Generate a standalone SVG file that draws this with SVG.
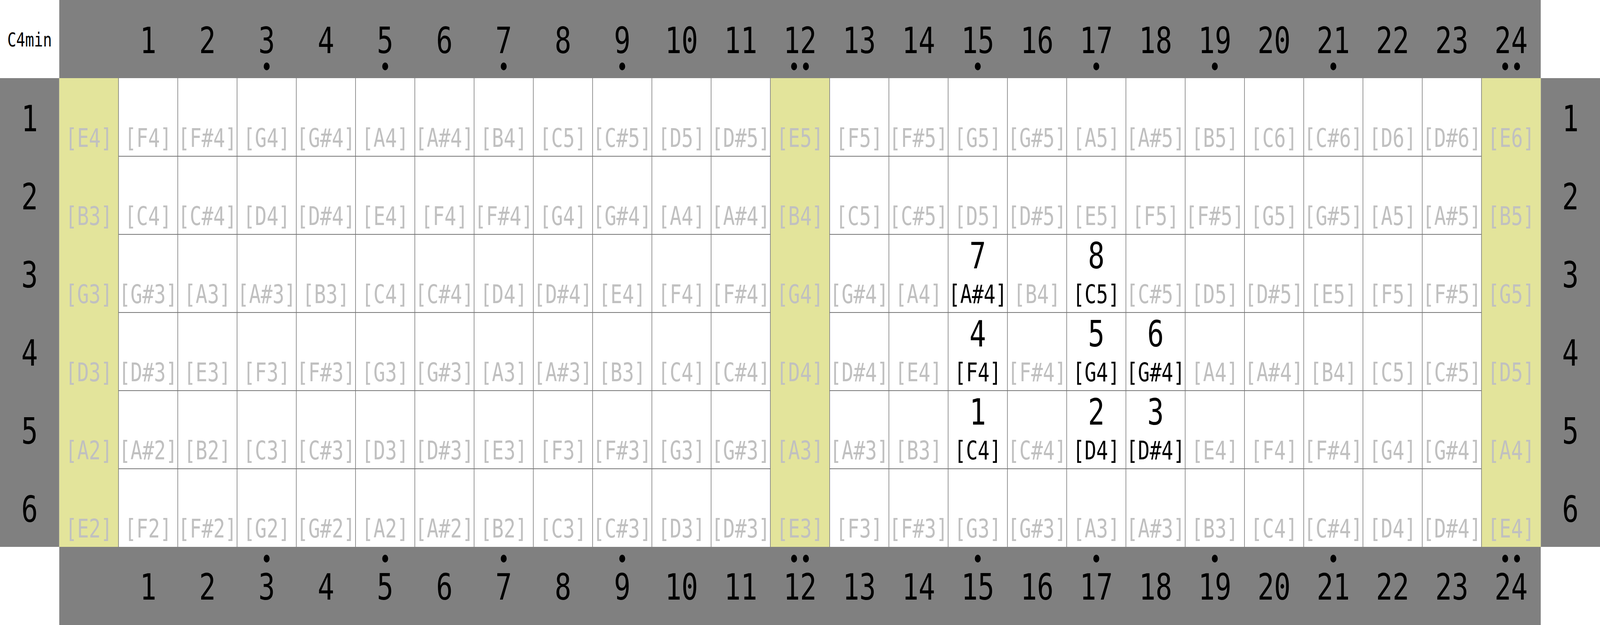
<svg xmlns="http://www.w3.org/2000/svg" width="5400" height="1600" viewBox="0 0 5400 1600" preserveAspectRatio="none" style="width:100vw;height:100vh;display:block">
<style>
.band{fill:#808080}
.open{fill:#e3e49b}
#grid line{stroke:#767676;stroke-width:2}
text{font-family:"DejaVu Sans Mono","Liberation Mono",monospace;text-anchor:middle}
.num{font-size:93px;fill:#000}
.note{font-size:66px;fill:#c0c0c0}
.hl text{fill:#000}
.dot{fill:#000}
.title{font-size:50px;fill:#000}
</style>
<rect width="5400" height="1600" fill="#fff"/>
<g id="bands">
<rect class="band" x="200" y="0" width="5000" height="200"/>
<rect class="band" x="200" y="1400" width="5000" height="200"/>
<rect class="band" x="0" y="200" width="200" height="1200"/>
<rect class="band" x="5200" y="200" width="200" height="1200"/>
</g>
<g id="open-columns">
<rect class="open" x="200" y="200" width="200" height="1200"/>
<rect class="open" x="2600" y="200" width="200" height="1200"/>
<rect class="open" x="5000" y="200" width="200" height="1200"/>
</g>
<g id="grid">
<line x1="400" y1="400" x2="2600" y2="400"/><line x1="2800" y1="400" x2="5000" y2="400"/>
<line x1="400" y1="600" x2="2600" y2="600"/><line x1="2800" y1="600" x2="5000" y2="600"/>
<line x1="400" y1="800" x2="2600" y2="800"/><line x1="2800" y1="800" x2="5000" y2="800"/>
<line x1="400" y1="1000" x2="2600" y2="1000"/><line x1="2800" y1="1000" x2="5000" y2="1000"/>
<line x1="400" y1="1200" x2="2600" y2="1200"/><line x1="2800" y1="1200" x2="5000" y2="1200"/>
<line x1="400" y1="200" x2="400" y2="1400"/><line x1="600" y1="200" x2="600" y2="1400"/>
<line x1="800" y1="200" x2="800" y2="1400"/><line x1="1000" y1="200" x2="1000" y2="1400"/>
<line x1="1200" y1="200" x2="1200" y2="1400"/><line x1="1400" y1="200" x2="1400" y2="1400"/>
<line x1="1600" y1="200" x2="1600" y2="1400"/><line x1="1800" y1="200" x2="1800" y2="1400"/>
<line x1="2000" y1="200" x2="2000" y2="1400"/><line x1="2200" y1="200" x2="2200" y2="1400"/>
<line x1="2400" y1="200" x2="2400" y2="1400"/><line x1="2600" y1="200" x2="2600" y2="1400"/>
<line x1="2800" y1="200" x2="2800" y2="1400"/><line x1="3000" y1="200" x2="3000" y2="1400"/>
<line x1="3200" y1="200" x2="3200" y2="1400"/><line x1="3400" y1="200" x2="3400" y2="1400"/>
<line x1="3600" y1="200" x2="3600" y2="1400"/><line x1="3800" y1="200" x2="3800" y2="1400"/>
<line x1="4000" y1="200" x2="4000" y2="1400"/><line x1="4200" y1="200" x2="4200" y2="1400"/>
<line x1="4400" y1="200" x2="4400" y2="1400"/><line x1="4600" y1="200" x2="4600" y2="1400"/>
<line x1="4800" y1="200" x2="4800" y2="1400"/><line x1="5000" y1="200" x2="5000" y2="1400"/>
</g>
<g id="title"><text class="title" x="100" y="119">C4min</text></g>
<g id="fret-numbers-top" class="num">
<text x="500" y="136">1</text><text x="700" y="136">2</text><text x="900" y="136">3</text><text x="1100" y="136">4</text><text x="1300" y="136">5</text><text x="1500" y="136">6</text><text x="1700" y="136">7</text><text x="1900" y="136">8</text><text x="2100" y="136">9</text><text x="2300" y="136">10</text><text x="2500" y="136">11</text><text x="2700" y="136">12</text><text x="2900" y="136">13</text><text x="3100" y="136">14</text><text x="3300" y="136">15</text><text x="3500" y="136">16</text><text x="3700" y="136">17</text><text x="3900" y="136">18</text><text x="4100" y="136">19</text><text x="4300" y="136">20</text><text x="4500" y="136">21</text><text x="4700" y="136">22</text><text x="4900" y="136">23</text><text x="5100" y="136">24</text>
</g>
<g id="fret-numbers-bottom" class="num">
<text x="500" y="1535">1</text><text x="700" y="1535">2</text><text x="900" y="1535">3</text><text x="1100" y="1535">4</text><text x="1300" y="1535">5</text><text x="1500" y="1535">6</text><text x="1700" y="1535">7</text><text x="1900" y="1535">8</text><text x="2100" y="1535">9</text><text x="2300" y="1535">10</text><text x="2500" y="1535">11</text><text x="2700" y="1535">12</text><text x="2900" y="1535">13</text><text x="3100" y="1535">14</text><text x="3300" y="1535">15</text><text x="3500" y="1535">16</text><text x="3700" y="1535">17</text><text x="3900" y="1535">18</text><text x="4100" y="1535">19</text><text x="4300" y="1535">20</text><text x="4500" y="1535">21</text><text x="4700" y="1535">22</text><text x="4900" y="1535">23</text><text x="5100" y="1535">24</text>
</g>
<g id="inlay-dots-top" class="dot">
<circle cx="900" cy="170" r="10"/><circle cx="1300" cy="170" r="10"/><circle cx="1700" cy="170" r="10"/><circle cx="2100" cy="170" r="10"/>
<circle cx="2680" cy="170" r="10"/><circle cx="2720" cy="170" r="10"/>
<circle cx="3300" cy="170" r="10"/><circle cx="3700" cy="170" r="10"/><circle cx="4100" cy="170" r="10"/><circle cx="4500" cy="170" r="10"/>
<circle cx="5080" cy="170" r="10"/><circle cx="5120" cy="170" r="10"/>
</g>
<g id="inlay-dots-bottom" class="dot">
<circle cx="900" cy="1430" r="10"/><circle cx="1300" cy="1430" r="10"/><circle cx="1700" cy="1430" r="10"/><circle cx="2100" cy="1430" r="10"/>
<circle cx="2680" cy="1430" r="10"/><circle cx="2720" cy="1430" r="10"/>
<circle cx="3300" cy="1430" r="10"/><circle cx="3700" cy="1430" r="10"/><circle cx="4100" cy="1430" r="10"/><circle cx="4500" cy="1430" r="10"/>
<circle cx="5080" cy="1430" r="10"/><circle cx="5120" cy="1430" r="10"/>
</g>
<g id="string-numbers-left" class="num">
<text x="100" y="336">1</text><text x="100" y="536">2</text><text x="100" y="736">3</text><text x="100" y="936">4</text><text x="100" y="1136">5</text><text x="100" y="1336">6</text>
</g>
<g id="string-numbers-right" class="num">
<text x="5300" y="336">1</text><text x="5300" y="536">2</text><text x="5300" y="736">3</text><text x="5300" y="936">4</text><text x="5300" y="1136">5</text><text x="5300" y="1336">6</text>
</g>
<g id="string-1" class="note">
<text x="300" y="376">[E4]</text><text x="500" y="376">[F4]</text><text x="700" y="376">[F#4]</text><text x="900" y="376">[G4]</text><text x="1100" y="376">[G#4]</text><text x="1300" y="376">[A4]</text><text x="1500" y="376">[A#4]</text><text x="1700" y="376">[B4]</text><text x="1900" y="376">[C5]</text><text x="2100" y="376">[C#5]</text><text x="2300" y="376">[D5]</text><text x="2500" y="376">[D#5]</text><text x="2700" y="376">[E5]</text><text x="2900" y="376">[F5]</text><text x="3100" y="376">[F#5]</text><text x="3300" y="376">[G5]</text><text x="3500" y="376">[G#5]</text><text x="3700" y="376">[A5]</text><text x="3900" y="376">[A#5]</text><text x="4100" y="376">[B5]</text><text x="4300" y="376">[C6]</text><text x="4500" y="376">[C#6]</text><text x="4700" y="376">[D6]</text><text x="4900" y="376">[D#6]</text><text x="5100" y="376">[E6]</text>
</g>
<g id="string-2" class="note">
<text x="300" y="576">[B3]</text><text x="500" y="576">[C4]</text><text x="700" y="576">[C#4]</text><text x="900" y="576">[D4]</text><text x="1100" y="576">[D#4]</text><text x="1300" y="576">[E4]</text><text x="1500" y="576">[F4]</text><text x="1700" y="576">[F#4]</text><text x="1900" y="576">[G4]</text><text x="2100" y="576">[G#4]</text><text x="2300" y="576">[A4]</text><text x="2500" y="576">[A#4]</text><text x="2700" y="576">[B4]</text><text x="2900" y="576">[C5]</text><text x="3100" y="576">[C#5]</text><text x="3300" y="576">[D5]</text><text x="3500" y="576">[D#5]</text><text x="3700" y="576">[E5]</text><text x="3900" y="576">[F5]</text><text x="4100" y="576">[F#5]</text><text x="4300" y="576">[G5]</text><text x="4500" y="576">[G#5]</text><text x="4700" y="576">[A5]</text><text x="4900" y="576">[A#5]</text><text x="5100" y="576">[B5]</text>
</g>
<g id="string-3" class="note">
<text x="300" y="776">[G3]</text><text x="500" y="776">[G#3]</text><text x="700" y="776">[A3]</text><text x="900" y="776">[A#3]</text><text x="1100" y="776">[B3]</text><text x="1300" y="776">[C4]</text><text x="1500" y="776">[C#4]</text><text x="1700" y="776">[D4]</text><text x="1900" y="776">[D#4]</text><text x="2100" y="776">[E4]</text><text x="2300" y="776">[F4]</text><text x="2500" y="776">[F#4]</text><text x="2700" y="776">[G4]</text><text x="2900" y="776">[G#4]</text><text x="3100" y="776">[A4]</text><text x="3500" y="776">[B4]</text><text x="3900" y="776">[C#5]</text><text x="4100" y="776">[D5]</text><text x="4300" y="776">[D#5]</text><text x="4500" y="776">[E5]</text><text x="4700" y="776">[F5]</text><text x="4900" y="776">[F#5]</text><text x="5100" y="776">[G5]</text>
</g>
<g id="string-4" class="note">
<text x="300" y="976">[D3]</text><text x="500" y="976">[D#3]</text><text x="700" y="976">[E3]</text><text x="900" y="976">[F3]</text><text x="1100" y="976">[F#3]</text><text x="1300" y="976">[G3]</text><text x="1500" y="976">[G#3]</text><text x="1700" y="976">[A3]</text><text x="1900" y="976">[A#3]</text><text x="2100" y="976">[B3]</text><text x="2300" y="976">[C4]</text><text x="2500" y="976">[C#4]</text><text x="2700" y="976">[D4]</text><text x="2900" y="976">[D#4]</text><text x="3100" y="976">[E4]</text><text x="3500" y="976">[F#4]</text><text x="4100" y="976">[A4]</text><text x="4300" y="976">[A#4]</text><text x="4500" y="976">[B4]</text><text x="4700" y="976">[C5]</text><text x="4900" y="976">[C#5]</text><text x="5100" y="976">[D5]</text>
</g>
<g id="string-5" class="note">
<text x="300" y="1176">[A2]</text><text x="500" y="1176">[A#2]</text><text x="700" y="1176">[B2]</text><text x="900" y="1176">[C3]</text><text x="1100" y="1176">[C#3]</text><text x="1300" y="1176">[D3]</text><text x="1500" y="1176">[D#3]</text><text x="1700" y="1176">[E3]</text><text x="1900" y="1176">[F3]</text><text x="2100" y="1176">[F#3]</text><text x="2300" y="1176">[G3]</text><text x="2500" y="1176">[G#3]</text><text x="2700" y="1176">[A3]</text><text x="2900" y="1176">[A#3]</text><text x="3100" y="1176">[B3]</text><text x="3500" y="1176">[C#4]</text><text x="4100" y="1176">[E4]</text><text x="4300" y="1176">[F4]</text><text x="4500" y="1176">[F#4]</text><text x="4700" y="1176">[G4]</text><text x="4900" y="1176">[G#4]</text><text x="5100" y="1176">[A4]</text>
</g>
<g id="string-6" class="note">
<text x="300" y="1376">[E2]</text><text x="500" y="1376">[F2]</text><text x="700" y="1376">[F#2]</text><text x="900" y="1376">[G2]</text><text x="1100" y="1376">[G#2]</text><text x="1300" y="1376">[A2]</text><text x="1500" y="1376">[A#2]</text><text x="1700" y="1376">[B2]</text><text x="1900" y="1376">[C3]</text><text x="2100" y="1376">[C#3]</text><text x="2300" y="1376">[D3]</text><text x="2500" y="1376">[D#3]</text><text x="2700" y="1376">[E3]</text><text x="2900" y="1376">[F3]</text><text x="3100" y="1376">[F#3]</text><text x="3300" y="1376">[G3]</text><text x="3500" y="1376">[G#3]</text><text x="3700" y="1376">[A3]</text><text x="3900" y="1376">[A#3]</text><text x="4100" y="1376">[B3]</text><text x="4300" y="1376">[C4]</text><text x="4500" y="1376">[C#4]</text><text x="4700" y="1376">[D4]</text><text x="4900" y="1376">[D#4]</text><text x="5100" y="1376">[E4]</text>
</g>
<g id="tone-1" class="hl"><text class="num" x="3300" y="1087">1</text><text class="note" x="3300" y="1176">[C4]</text></g>
<g id="tone-2" class="hl"><text class="num" x="3700" y="1087">2</text><text class="note" x="3700" y="1176">[D4]</text></g>
<g id="tone-3" class="hl"><text class="num" x="3900" y="1087">3</text><text class="note" x="3900" y="1176">[D#4]</text></g>
<g id="tone-4" class="hl"><text class="num" x="3300" y="887">4</text><text class="note" x="3300" y="976">[F4]</text></g>
<g id="tone-5" class="hl"><text class="num" x="3700" y="887">5</text><text class="note" x="3700" y="976">[G4]</text></g>
<g id="tone-6" class="hl"><text class="num" x="3900" y="887">6</text><text class="note" x="3900" y="976">[G#4]</text></g>
<g id="tone-7" class="hl"><text class="num" x="3300" y="687">7</text><text class="note" x="3300" y="776">[A#4]</text></g>
<g id="tone-8" class="hl"><text class="num" x="3700" y="687">8</text><text class="note" x="3700" y="776">[C5]</text></g>
</svg>
